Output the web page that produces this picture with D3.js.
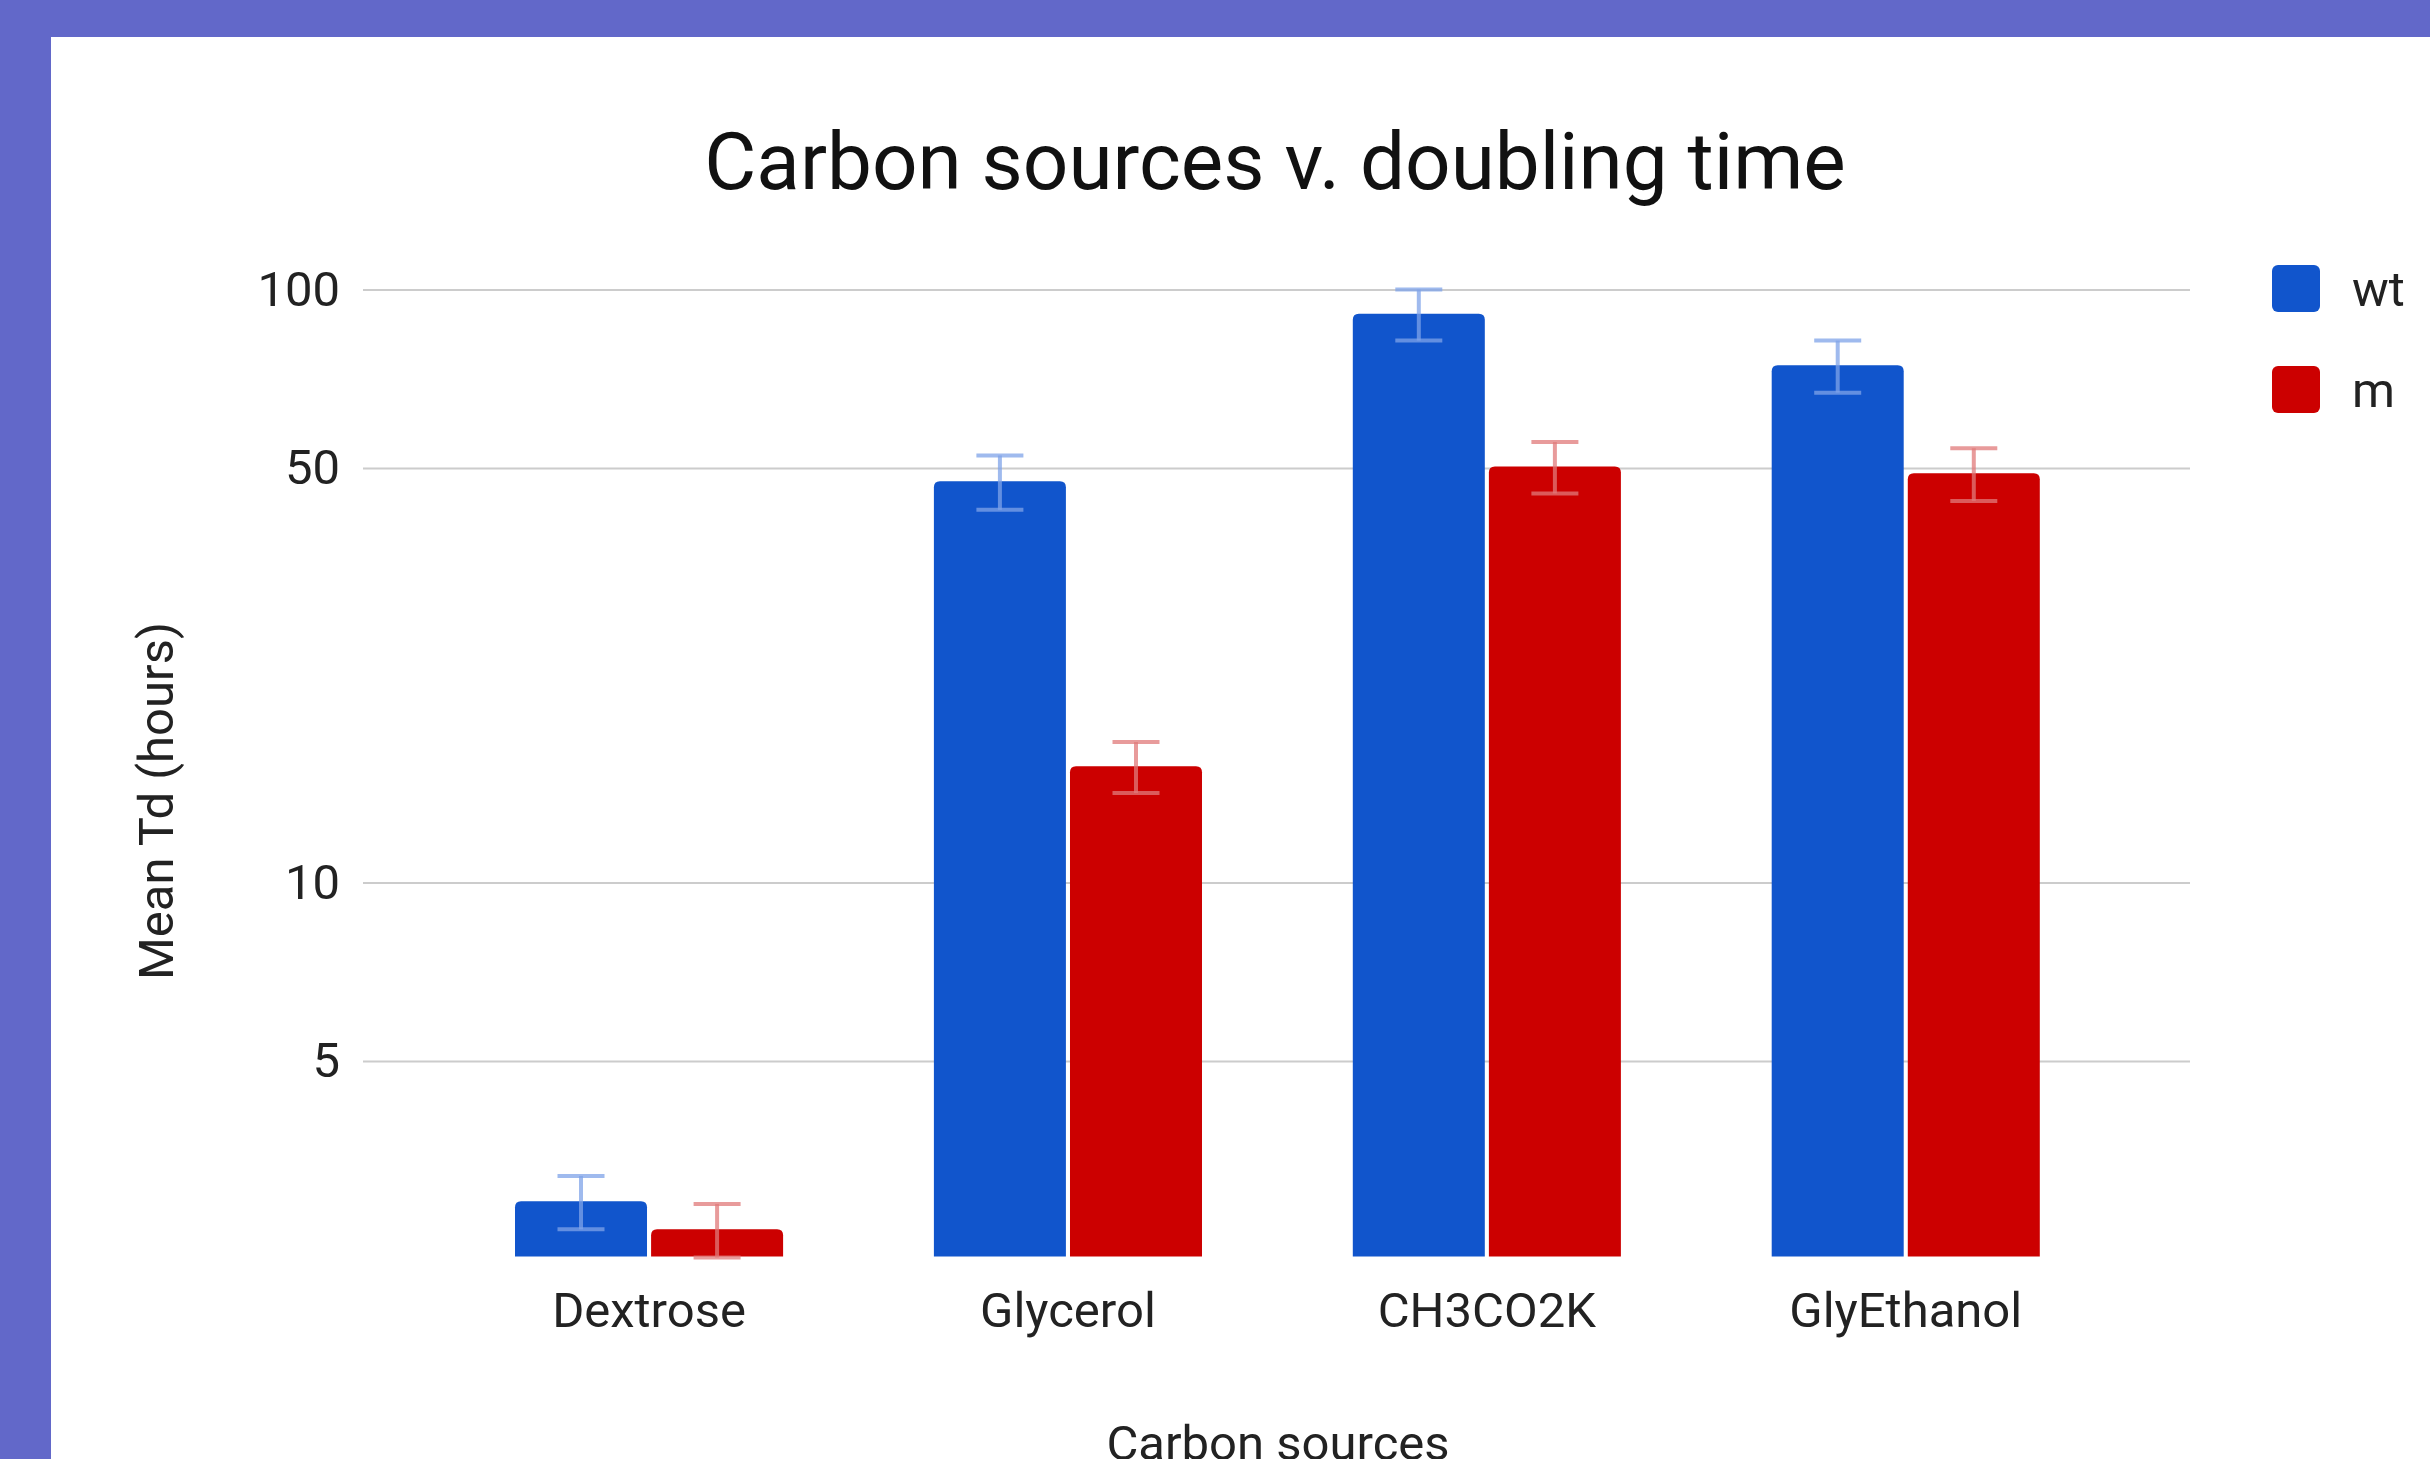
<!DOCTYPE html>
<html>
<head>
<meta charset="utf-8">
<script src="https://cdn.jsdelivr.net/npm/d3@7"></script>
<style>
  html, body { margin: 0; padding: 0; background: #6268c9; }
  #chart { position: absolute; left: 0; top: 0; }
  text { font-family: Roboto, "Noto Sans", sans-serif; }
</style>
</head>
<body>
<div id="chart"></div>
<script>
// chart data
const categories = ["Dextrose", "Glycerol", "CH3CO2K", "GlyEthanol"];
const seriesNames = ["wt", "m"];
const wtMeans = [2.9, 47.5, 91, 74.5];
const wtErr = [0.3, 5, 9, 7.5];
const mMeans = [2.6, 15.7, 50.3, 49];
const mErr = [0.27, 1.55, 5, 5];
const tickVals = [5, 10, 50, 100];

const width = 2430, height = 1459;
const colors = {wt: "#1155cc", m: "#cc0000"};
const errColors = {wt: "#7fa3e8", m: "#e07a7a"};

let svg = d3.select("#chart")
    .append("svg")
        .attr("width", width)
        .attr("height", height);

// white panel
svg.append("rect")
    .attr("x", 51).attr("y", 37)
    .attr("width", width - 51).attr("height", height - 37)
    .attr("fill", "#ffffff");

const gridLeft = 363, gridRight = 2190;
const baseY = 1256.5, topY = 289.5;

let y = d3.scaleLog()
    .domain([2.34, 100])
    .range([baseY, topY]);

let x0 = d3.scaleBand()
    .domain(categories)
    .range([439.6, 2115.2])
    .paddingInner(0.36)
    .paddingOuter(0.18);

let x1 = d3.scaleBand()
    .domain(seriesNames)
    .range([0, x0.bandwidth()])
    .paddingInner(0.03);

// y axis with gridlines
let yAxis = d3.axisLeft(y)
    .tickValues(tickVals)
    .tickFormat(d3.format("d"))
    .tickSize(-(gridRight - gridLeft))
    .tickPadding(23);

let yG = svg.append("g")
    .attr("transform", `translate(${gridLeft},0)`)
    .call(yAxis);
yG.select(".domain").remove();
yG.selectAll(".tick line")
    .attr("stroke", "#cccccc")
    .attr("stroke-width", 2);
yG.selectAll(".tick text")
    .attr("fill", "#222222")
    .style("font-size", "49px");

// x axis
let xAxis = d3.axisBottom(x0)
    .tickSize(0)
    .tickPadding(36);

let xG = svg.append("g")
    .attr("transform", `translate(0,${baseY})`)
    .call(xAxis);
xG.select(".domain").remove();
xG.selectAll(".tick text")
    .attr("fill", "#222222")
    .style("font-size", "49px");

// build rows for bars
let rows = categories.map((c, i) => ({
    cat: c,
    vals: [
        {key: "wt", value: wtMeans[i], err: wtErr[i]},
        {key: "m", value: mMeans[i], err: mErr[i]}
    ]
}));

function topRoundedBar(x, yTop, w, yBottom, r) {
    r = Math.min(r, (yBottom - yTop) / 2, w / 2);
    return `M${x},${yBottom}V${yTop + r}Q${x},${yTop} ${x + r},${yTop}` +
        `H${x + w - r}Q${x + w},${yTop} ${x + w},${yTop + r}V${yBottom}Z`;
}

let groups = svg.selectAll(".group")
    .data(rows)
    .enter().append("g")
        .attr("class", "group")
        .attr("transform", d => `translate(${x0(d.cat)},0)`);

groups.selectAll("path.bar")
    .data(d => d.vals)
    .enter().append("path")
        .attr("class", "bar")
        .attr("d", d => topRoundedBar(x1(d.key), y(d.value), x1.bandwidth(), baseY, 6))
        .attr("fill", d => colors[d.key]);

// error bars
const capW = 47;
let errG = groups.selectAll("g.err")
    .data(d => d.vals)
    .enter().append("g")
        .attr("class", "err")
        .attr("stroke", d => errColors[d.key])
        .attr("stroke-width", 4)
        .attr("stroke-opacity", 0.75);

errG.append("line")
    .attr("x1", d => x1(d.key) + x1.bandwidth() / 2)
    .attr("x2", d => x1(d.key) + x1.bandwidth() / 2)
    .attr("y1", d => y(d.value + d.err))
    .attr("y2", d => y(d.value - d.err));
errG.append("line")
    .attr("x1", d => x1(d.key) + x1.bandwidth() / 2 - capW / 2)
    .attr("x2", d => x1(d.key) + x1.bandwidth() / 2 + capW / 2)
    .attr("y1", d => y(d.value + d.err))
    .attr("y2", d => y(d.value + d.err));
errG.append("line")
    .attr("x1", d => x1(d.key) + x1.bandwidth() / 2 - capW / 2)
    .attr("x2", d => x1(d.key) + x1.bandwidth() / 2 + capW / 2)
    .attr("y1", d => y(d.value - d.err))
    .attr("y2", d => y(d.value - d.err));

// title
svg.append("text")
    .attr("x", 1275)
    .attr("y", 189)
    .attr("text-anchor", "middle")
    .attr("fill", "#111111")
    .style("font-size", "80px")
    .text("Carbon sources v. doubling time");

// axis titles
svg.append("text")
    .attr("transform", "translate(173,801) rotate(-90)")
    .attr("text-anchor", "middle")
    .attr("fill", "#222222")
    .style("font-size", "49px")
    .text("Mean Td (hours)");

svg.append("text")
    .attr("x", 1278)
    .attr("y", 1460)
    .attr("text-anchor", "middle")
    .attr("fill", "#222222")
    .style("font-size", "49px")
    .text("Carbon sources");

// legend
let legend = svg.selectAll(".legend")
    .data(seriesNames)
    .enter().append("g")
        .attr("class", "legend")
        .attr("transform", (d, i) => `translate(2272,${265 + i * 101})`);

legend.append("rect")
    .attr("width", 48)
    .attr("height", 47)
    .attr("rx", 6)
    .attr("fill", d => colors[d]);

legend.append("text")
    .attr("x", 80)
    .attr("y", 24)
    .attr("dy", "0.35em")
    .attr("fill", "#222222")
    .style("font-size", "49px")
    .text(d => d);
</script>
</body>
</html>
